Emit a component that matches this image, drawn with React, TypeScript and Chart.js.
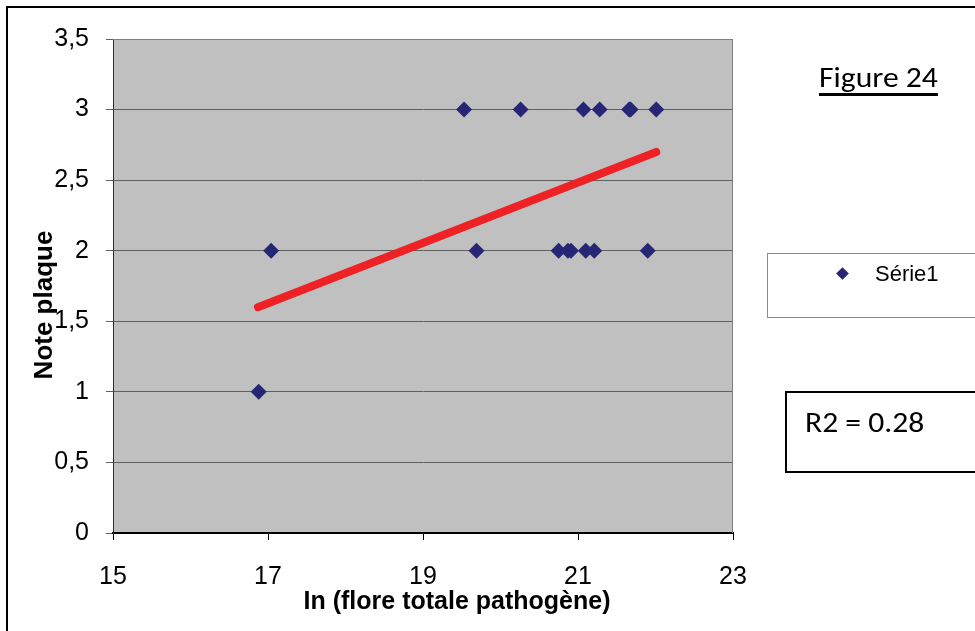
import React, { useEffect, useRef } from "react";
import { Chart, registerables } from "chart.js";
Chart.register(...registerables);

const seriesLabel = "Série1";
const seriesX = [16.88, 17.04, 19.53, 19.69, 20.26, 20.75, 20.87, 20.91, 21.07, 21.1, 21.21, 21.28, 21.66, 21.68, 21.9, 22.01];
const seriesY = [1, 2, 3, 2, 3, 2, 2, 2, 3, 2, 2, 3, 3, 3, 2, 3];
const trendX = [16.87, 22.01];
const trendY = [1.6, 2.7];
const xTickValues = [15, 17, 19, 21, 23];
const yTickValues = [0, 0.5, 1, 1.5, 2, 2.5, 3, 3.5];
const yTickLabels = ["0", "0,5", "1", "1,5", "2", "2,5", "3", "3,5"];
const xTitle = "In (flore totale pathogène)";
const yTitle = "Note plaque";
const figureTitle = "Figure 24";
const r2Text = "R2 = 0.28";

const SANS = "'Liberation Sans', Arial, sans-serif";
const CALIBRI = "Carlito, Lato, 'Open Sans', sans-serif";

export default function App() {
  const ref = useRef<HTMLCanvasElement | null>(null);

  useEffect(() => {
    if (!ref.current) return;
    const plotDecor = {
      id: "plotDecor",
      beforeDraw(chart: any) {
        const { ctx, chartArea: a } = chart;
        ctx.save();
        ctx.fillStyle = "#c0c0c0";
        ctx.fillRect(a.left, a.top, a.right - a.left, a.bottom - a.top);
        ctx.restore();
      },
      afterDraw(chart: any) {
        const { ctx, chartArea: a } = chart;
        ctx.save();
        ctx.strokeStyle = "#808080";
        ctx.lineWidth = 1;
        ctx.beginPath();
        ctx.moveTo(a.left, a.top + 0.5);
        ctx.lineTo(a.right - 0.5, a.top + 0.5);
        ctx.lineTo(a.right - 0.5, a.bottom);
        ctx.stroke();
        ctx.fillStyle = "#000";
        ctx.textAlign = "center";
        ctx.textBaseline = "middle";
        ctx.font = `bold 25px ${SANS}`;
        ctx.fillText(xTitle, 457, 602);
        ctx.translate(45, 305);
        ctx.rotate(-Math.PI / 2);
        ctx.font = `bold 26px ${SANS}`;
        ctx.fillText(yTitle, 0, 0);
        ctx.restore();
      },
    };

    const chart = new Chart(ref.current, {
      type: "scatter",
      data: {
        datasets: [
          {
            label: seriesLabel,
            data: seriesX.map((x, i) => ({ x, y: seriesY[i] })),
            pointStyle: "rectRot",
            pointRadius: 8,
            pointHoverRadius: 8,
            borderWidth: 0,
            backgroundColor: "#262675",
            borderColor: "#262675",
            order: 1,
          },
          {
            label: "trend",
            type: "line",
            data: trendX.map((x, i) => ({ x, y: trendY[i] })),
            borderColor: "#ee2124",
            borderWidth: 8,
            borderCapStyle: "round",
            pointRadius: 0,
            showLine: true,
            fill: false,
            order: 2,
          } as any,
        ],
      },
      options: {
        animation: false,
        responsive: false,
        events: [],
        layout: { padding: { left: 0, right: 242, top: 39, bottom: 0 } },
        plugins: { legend: { display: false }, tooltip: { enabled: false } },
        scales: {
          x: {
            type: "linear",
            position: "bottom",
            min: 15,
            max: 23,
            afterBuildTicks: (s: any) => {
              s.ticks = xTickValues.map((v) => ({ value: v }));
            },
            afterFit: (s: any) => {
              s.height = 98;
            },
            ticks: {
              color: "#000",
              font: { family: SANS, size: 25 },
              padding: 22,
              maxRotation: 0,
            },
            grid: { drawOnChartArea: false, drawTicks: true, tickLength: 7, color: "#000" },
            border: { color: "#000", width: 2 },
          },
          y: {
            type: "linear",
            min: 0,
            max: 3.5,
            afterBuildTicks: (s: any) => {
              s.ticks = yTickValues.map((v) => ({ value: v }));
            },
            afterFit: (s: any) => {
              s.width = 113;
            },
            ticks: {
              color: "#000",
              font: { family: SANS, size: 25 },
              padding: 17,
              callback: (v: any) => {
                const i = yTickValues.indexOf(Number(v));
                return i >= 0 ? yTickLabels[i] : String(v);
              },
            },
            grid: { color: "#606060", tickLength: 7, lineWidth: 1 },
            border: { color: "#303030", width: 1 },
          },
        },
      },
      plugins: [plotDecor],
    } as any);
    return () => chart.destroy();
  }, []);

  return (
    <div style={{ position: "absolute", left: 0, top: 0, width: 975, height: 631, background: "#fff", overflow: "hidden" }}>
      <canvas ref={ref} width={975} height={631} style={{ position: "absolute", left: 0, top: 0, width: 975, height: 631 }} />
      <div style={{ position: "absolute", left: 6, top: 6, width: 975, height: 631, borderTop: "2px solid #000", borderLeft: "2px solid #000", boxSizing: "border-box" }} />
      <div style={{ position: "absolute", left: 819, top: 63, font: `28px ${CALIBRI}`, color: "#000", lineHeight: "30px", whiteSpace: "nowrap", textDecoration: "underline", textDecorationThickness: "2.5px", textUnderlineOffset: "6px", transform: "scaleX(1.13)", transformOrigin: "0 0" }}>
        {figureTitle}
      </div>
      <div style={{ position: "absolute", left: 767, top: 253, width: 230, height: 65, border: "1px solid #8a8a8a", boxSizing: "border-box", background: "#fff" }}>
        <div style={{ position: "absolute", left: 70, top: 15, width: 9, height: 9, background: "#262675", transform: "rotate(45deg)" }} />
        <div style={{ position: "absolute", left: 107, top: 7, font: `22px ${SANS}`, color: "#000", lineHeight: "26px", whiteSpace: "nowrap" }}>{seriesLabel}</div>
      </div>
      <div style={{ position: "absolute", left: 785, top: 391, width: 230, height: 82, border: "2px solid #000", boxSizing: "border-box", background: "#fff" }}>
        <div style={{ position: "absolute", left: 18, top: 13, font: `29px ${CALIBRI}`, color: "#000", lineHeight: "32px", whiteSpace: "nowrap", transform: "scaleX(1.09)", transformOrigin: "0 0" }}>{r2Text}</div>
      </div>
    </div>
  );
}
